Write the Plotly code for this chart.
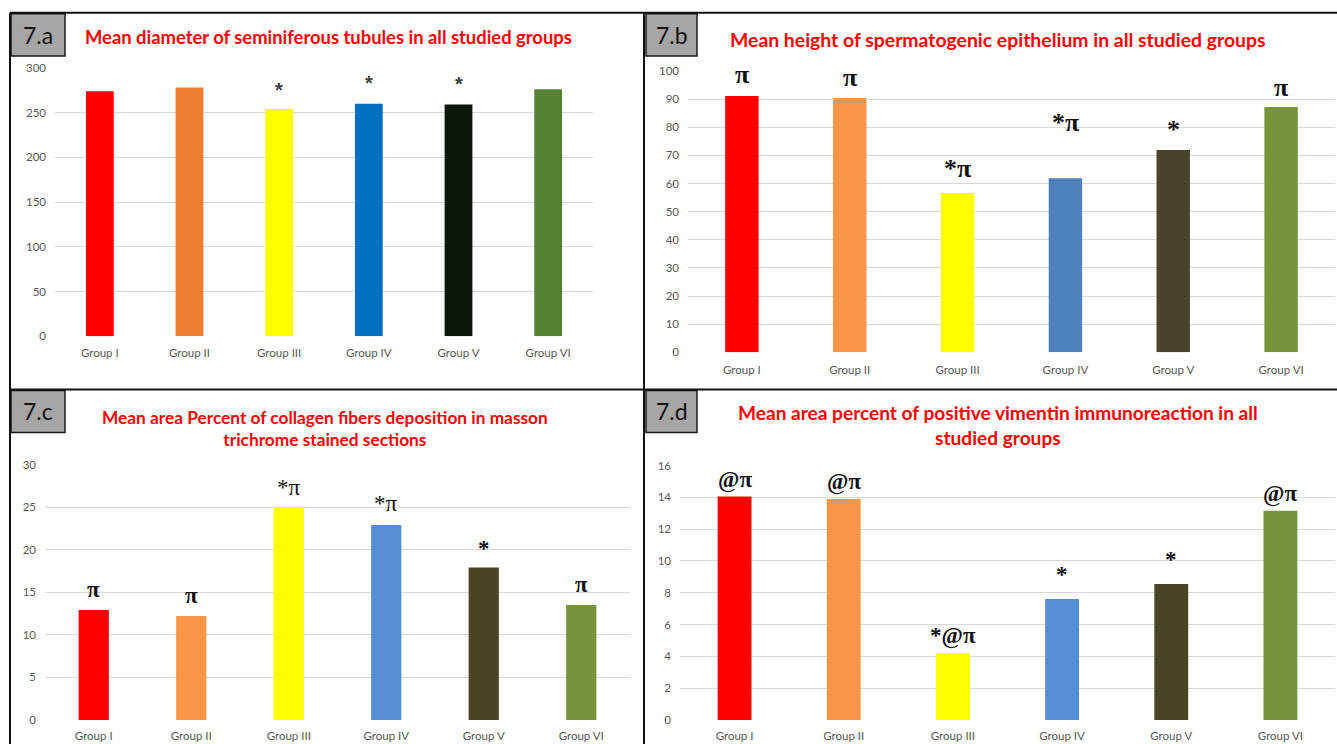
import plotly.graph_objects as go

W, H = 1337, 744

groups = ["Group I", "Group II", "Group III", "Group IV", "Group V", "Group VI"]

diameter = [274, 278, 254, 260, 259, 276]
height = [91.1, 90.4, 56.6, 61.9, 71.9, 87.2]
collagen = [12.9, 12.2, 25.0, 22.9, 17.9, 13.5]
vimentin = [14.05, 13.9, 4.2, 7.6, 8.55, 13.15]

marks_a = ["", "", "*", "*", "*", ""]
marks_b = ["π", "π", "*π", "*π", "*", "π"]
marks_c = ["π", "π", "*π", "*π", "*", "π"]
marks_d = ["@π", "@π", "*@π", "*", "*", "@π"]

colors_a = ["#FF0000", "#ED7D31", "#FFFF00", "#0070C0", "#0D1709", "#548235"]
colors_b = ["#FF0000", "#F79646", "#FFFF00", "#4F81BD", "#494429", "#77933C"]
colors_c = ["#FF0000", "#F79646", "#FFFF00", "#558ED5", "#4A4427", "#77933C"]
colors_d = ["#FF0000", "#F79646", "#FFFF00", "#558ED5", "#4A4427", "#77933C"]

titles = [
    "Mean diameter of seminiferous tubules in all studied groups",
    "Mean height of spermatogenic epithelium in all studied groups",
    "Mean area Percent of collagen fibers deposition in masson<br>trichrome stained sections",
    "Mean area percent of positive vimentin immunoreaction in all<br>studied groups",
]
panel_labels = ["7.a", "7.b", "7.c", "7.d"]

# vertical calibration of the rendered page
SY, OY = 0.981, 7.2


def fx(x):
    return x / W


def fy(y):
    return 1 - ((y - OY) / SY) / H


serif_b = dict(family="Liberation Serif, serif", color="#111111", weight="bold")

panels = [
    dict(vals=diameter, marks=marks_a, colors=colors_a, rng=[0, 300], dtick=50,
         box=(55, 593, 336, 68), title_xy=(328, 37), title_size=18.4,
         lab_box=(11, 65, 14, 56), xstand=8,
         mark_font=dict(family="Liberation Sans, sans-serif", size=20, color="#404040", weight="bold"),
         shifts=[0, 0, 5, 7, 7, 0]),
    dict(vals=height, marks=marks_b, colors=colors_b, rng=[0, 100], dtick=10,
         box=(688, 1335, 352, 71), title_xy=(998, 40), title_size=19.4,
         lab_box=(646, 697, 14, 56), xstand=9,
         mark_font=dict(size=26, **serif_b),
         shifts=[4, 3, 7, 38, 3, 2]),
    dict(vals=collagen, marks=marks_c, colors=colors_c, rng=[0, 30], dtick=5,
         box=(45, 630, 719, 464), title_xy=(325, 428.5), title_size=17.3,
         lab_box=(11, 65, 390, 432), xstand=8,
         mark_font=dict(size=23, **serif_b),
         shifts=[5, 5, 4, 6, 4, 5]),
    dict(vals=vimentin, marks=marks_d, colors=colors_d, rng=[0, 16], dtick=2,
         box=(680, 1335, 719, 465), title_xy=(998, 424.5), title_size=19.1,
         lab_box=(646, 697, 390, 432), xstand=8,
         mark_font=dict(size=23, **serif_b),
         shifts=[1, 1, 1, 9, 9, 1]),
]

fig = go.Figure()
layout = dict(
    width=W, height=H, margin=dict(l=0, r=0, t=0, b=0),
    paper_bgcolor="white", plot_bgcolor="white", showlegend=False,
)
annotations = []
shapes = []

for i, p in enumerate(panels):
    n = "" if i == 0 else str(i + 1)
    xa, ya = "x" + n, "y" + n
    fig.add_trace(go.Bar(
        x=groups, y=p["vals"], marker=dict(color=p["colors"], line=dict(width=0)),
        width=0.31, xaxis=xa, yaxis=ya, hoverinfo="x+y",
    ))
    x0, x1, yb, yt = p["box"]
    layout["xaxis" + n] = dict(
        domain=[fx(x0), fx(x1)], anchor=ya, range=[-0.5, 5.5], showgrid=False,
        showline=False, zeroline=False, ticks="", ticklabelstandoff=p["xstand"],
        tickfont=dict(family="Lato, sans-serif", size=11.5, color="#595959"),
        fixedrange=True,
    )
    layout["yaxis" + n] = dict(
        domain=[fy(yb), fy(yt)], anchor=xa, range=p["rng"], dtick=p["dtick"],
        showgrid=True, gridcolor="#D9D9D9", gridwidth=1, zeroline=False,
        showline=False, ticks="", ticklabelstandoff=8,
        tickfont=dict(family="Lato, sans-serif", size=11.5, color="#595959"),
        fixedrange=True,
    )
    for g, v, m, s in zip(groups, p["vals"], p["marks"], p["shifts"]):
        if m:
            font = dict(p["mark_font"])
            if i == 2 and m == "*π":
                font["weight"] = "normal"
            annotations.append(dict(
                x=g, y=v, xref=xa, yref=ya, text=m, showarrow=False,
                yanchor="bottom", yshift=1 + s, font=font,
            ))
    # title
    tx, ty = p["title_xy"]
    annotations.append(dict(
        x=fx(tx), y=fy(ty), xref="paper", yref="paper", text=titles[i],
        showarrow=False, xanchor="center", yanchor="middle",
        font=dict(family="Lato, sans-serif", size=p["title_size"], color="#FF0000", weight="bold"),
    ))
    # label box
    bx0, bx1, by0, by1 = p["lab_box"]
    shapes.append(dict(type="rect", xref="paper", yref="paper",
                       x0=fx(bx0), x1=fx(bx1), y0=fy(by1), y1=fy(by0),
                       fillcolor="#A6A6A6", line=dict(color="#1A1A1A", width=1.5)))
    annotations.append(dict(
        x=fx((bx0 + bx1) / 2), y=fy((by0 + by1) / 2), xref="paper", yref="paper",
        text=panel_labels[i], showarrow=False, xanchor="center", yanchor="middle",
        font=dict(family="Lato, sans-serif", size=23, color="#111111"),
    ))

# panel frame lines
frame = [
    (10, 13, 1337, 13),
    (10, 13, 10, 760),
    (644, 13, 644, 760),
    (10, 389, 1337, 389),
]
for (a, b, c, d) in frame:
    shapes.append(dict(type="line", xref="paper", yref="paper",
                       x0=fx(a), y0=fy(b), x1=fx(c), y1=fy(d),
                       line=dict(color="#111111", width=2)))

layout["annotations"] = annotations
layout["shapes"] = shapes
fig.update_layout(**layout)
fig.write_html("out.html")
